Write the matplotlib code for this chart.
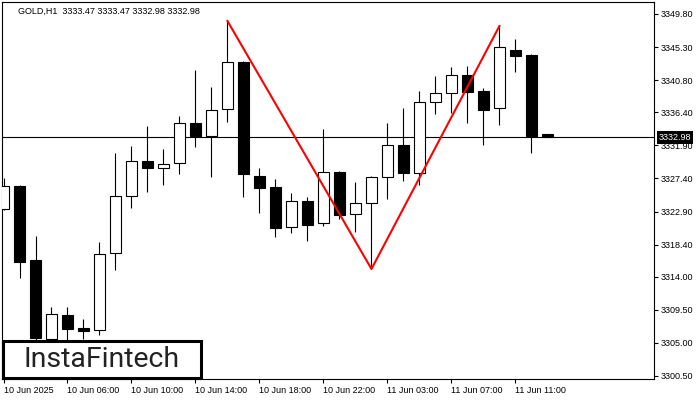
import matplotlib
matplotlib.use('agg')
import matplotlib.pyplot as plt
from matplotlib.patches import Rectangle

plt.rcParams['font.family'] = ['Liberation Sans', 'DejaVu Sans']

# GOLD H1 candles (bar 0 = 10 Jun 2025 start)
opens = [3323.24, 3326.37, 3316.30, 3305.54, 3308.81, 3307.04, 3306.76, 3317.25, 3325.01, 3329.78,
         3328.83, 3329.51, 3334.95, 3333.18, 3336.86, 3343.26, 3327.74, 3326.24, 3320.79, 3324.33,
         3321.34, 3328.28, 3322.56, 3324.06, 3327.60, 3331.96, 3328.14, 3337.81, 3339.04, 3341.49,
         3339.31, 3337.00, 3344.89, 3344.21, 3333.47]
highs = [3327.46, 3326.50, 3319.57, 3309.90, 3309.90, 3308.26, 3318.75, 3330.87, 3331.82, 3334.55,
         3331.41, 3335.91, 3342.17, 3339.86, 3348.84, 3343.40, 3328.83, 3327.33, 3325.42, 3324.88,
         3334.14, 3328.42, 3326.92, 3327.74, 3334.95, 3337.00, 3339.31, 3341.35, 3342.58, 3342.72,
         3339.72, 3348.16, 3346.39, 3344.35, 3333.47]
lows = [3323.10, 3313.85, 3304.50, 3305.00, 3305.30, 3305.50, 3306.08, 3314.94, 3323.38, 3325.56,
        3326.51, 3328.01, 3331.68, 3327.60, 3335.09, 3324.88, 3322.70, 3319.43, 3319.97, 3318.88,
        3320.93, 3321.88, 3320.11, 3315.07, 3324.60, 3327.06, 3326.51, 3336.18, 3336.32, 3334.95,
        3331.96, 3334.68, 3341.90, 3330.87, 3332.98]
closes = [3326.37, 3316.02, 3305.67, 3308.94, 3306.90, 3306.63, 3317.11, 3325.01, 3329.78, 3328.83,
          3329.37, 3334.95, 3333.18, 3336.72, 3343.26, 3328.01, 3326.10, 3320.65, 3324.33, 3321.06,
          3328.28, 3322.42, 3324.06, 3327.60, 3331.96, 3328.14, 3337.81, 3339.04, 3341.49, 3339.18,
          3336.72, 3345.30, 3344.08, 3333.18, 3332.98]

x_label_bars = [0, 4, 8, 12, 16, 20, 24, 28, 32]
x_labels = ['10 Jun 2025', '10 Jun 06:00', '10 Jun 10:00', '10 Jun 14:00', '10 Jun 18:00',
            '10 Jun 22:00', '11 Jun 03:00', '11 Jun 07:00', '11 Jun 11:00']
y_ticks = [3300.50, 3305.00, 3309.50, 3314.00, 3318.40, 3322.90, 3327.40, 3331.90,
           3336.40, 3340.80, 3345.30, 3349.80]

# double top: first top, trough, second top
pattern_bars = [14, 23, 31]
pattern_kinds = ['high', 'low', 'high']

fig = plt.figure(figsize=(7, 4), dpi=100)
ax = fig.add_axes([2 / 700, 21 / 400, 652 / 700, 377 / 400])

x = list(range(len(opens)))
bottoms = [min(o, c) for o, c in zip(opens, closes)]
heights = [abs(c - o) for o, c in zip(opens, closes)]
colors = ['white' if c > o else 'black' for o, c in zip(opens, closes)]

# current price line (behind the candles)
ax.axhline(closes[-1], color='black', lw=0.8, zorder=1.5)

ax.vlines(x, lows, highs, color='black', lw=0.8, zorder=2)
ax.bar(x, heights, bottom=bottoms, width=0.66, color=colors, edgecolor='black',
       linewidth=0.8, zorder=3)

pattern_prices = [highs[b] if k == 'high' else lows[b] for b, k in zip(pattern_bars, pattern_kinds)]
ax.plot(pattern_bars, pattern_prices, color='red', lw=1.5, zorder=4)

ax.set_xlim(-0.094, 40.66)
ax.set_ylim(3300.09, 3351.43)

ax.set_xticks(x_label_bars)
ax.set_xticklabels(x_labels, ha='left')
ax.yaxis.tick_right()
ax.set_yticks(y_ticks)
ax.set_yticklabels([f'{v:.2f}' for v in y_ticks])
ax.tick_params(axis='both', length=3, width=0.8, labelsize=6.5, pad=2, colors='black')
for s in ax.spines.values():
    s.set_linewidth(0.8)
    s.set_color('black')

# last price label on the right scale
ax.annotate(f'{closes[-1]:.2f}', xy=(1, closes[-1]), xycoords=('axes fraction', 'data'),
            xytext=(3.5, 0), textcoords='offset points', ha='left', va='center',
            color='white', fontsize=6.5,
            bbox=dict(boxstyle='square,pad=0.2', fc='black', ec='none'), zorder=10)

fig.text(18 / 700, 1 - 11 / 400,
         f'GOLD,H1  {opens[-1]:.2f} {highs[-1]:.2f} {lows[-1]:.2f} {closes[-1]:.2f}',
         fontsize=6.5, ha='left', va='center', color='black')

# logo box bottom-left
fig.add_artist(Rectangle((3 / 700, 22 / 400), 198 / 700, 37 / 400, transform=fig.transFigure,
                         fc='white', ec='black', lw=2.2, zorder=5))
fig.text(102 / 700, 1 - 359.5 / 400, 'InstaFintech', fontsize=20.5, family='Roboto',
         fontweight='normal', ha='center', va='center', color='#222222', zorder=6)

fig.savefig('out.png', dpi=100)
